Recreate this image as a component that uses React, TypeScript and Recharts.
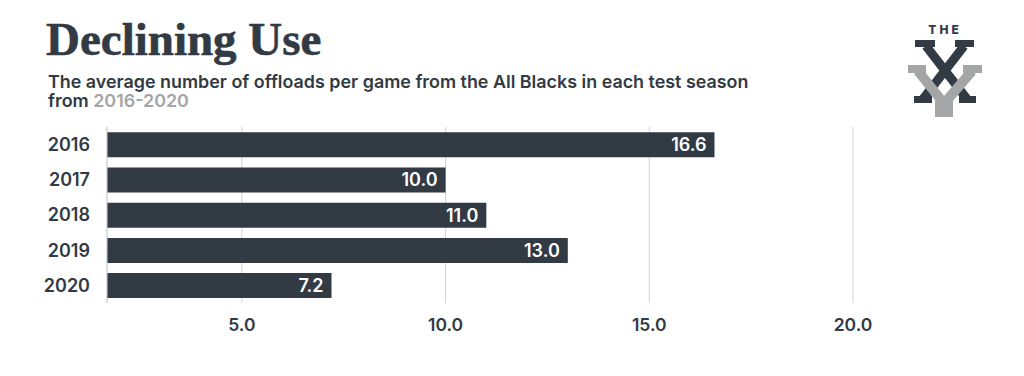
import { BarChart, Bar, XAxis, YAxis, CartesianGrid, LabelList } from 'recharts';

const SEASONS = ['2016', '2017', '2018', '2019', '2020'];
const OFFLOADS = [16.6, 10.0, 11.0, 13.0, 7.2];
const X_TICKS = [5, 10, 15, 20];

const DARK = '#323a44';
const GREY = '#a4a5a7';
const GRID = '#d2d2d2';
const SANS = 'Inter, "Noto Sans", sans-serif';

const data = SEASONS.map((season, i) => ({ season, offloads: OFFLOADS[i] }));

// Logo + headings drawn over the chart
function Header() {
  return (
    <svg
      width={1024}
      height={376}
      style={{ position: 'absolute', left: 0, top: 0, pointerEvents: 'none' }}
    >
      <text
        x={46}
        y={55}
        fontFamily='"Liberation Serif", serif'
        fontWeight={700}
        fontSize={47}
        fill={DARK}
        stroke={DARK}
        strokeWidth={0.6}
      >
        Declining Use
      </text>
      <text fontFamily={SANS} fontWeight={600} fontSize={17.9} fill={DARK}>
        <tspan x={48} y={88}>
          The average number of offloads per game from the All Blacks in each test season
        </tspan>
        <tspan x={48} y={107}>
          from <tspan fill={GREY}>2016-2020</tspan>
        </tspan>
      </text>

      <g>
        <text
          x={945}
          y={34}
          textAnchor="middle"
          fontFamily={SANS}
          fontWeight={800}
          fontSize={12}
          letterSpacing={3}
          fill={DARK}
        >
          THE
        </text>
        <line x1={926} y1={46} x2={967} y2={99} stroke={DARK} strokeWidth={9} />
        <line x1={964} y1={46} x2={923} y2={99} stroke={DARK} strokeWidth={9} />
        <rect x={915} y={40} width={20} height={7} fill={DARK} />
        <rect x={955} y={40} width={19} height={7} fill={DARK} />
        <rect x={914} y={96} width={18} height={7} fill={DARK} />
        <rect x={959} y={96} width={17} height={7} fill={DARK} />
        <line x1={918} y1={71} x2={946} y2={106} stroke={GREY} strokeWidth={10} />
        <line x1={972} y1={71} x2={942} y2={106} stroke={GREY} strokeWidth={10} />
        <rect x={908} y={65} width={18} height={8} fill={GREY} />
        <rect x={963} y={65} width={19} height={8} fill={GREY} />
        <rect x={935} y={101} width={18} height={16} fill={GREY} />
      </g>
    </svg>
  );
}

export default function App() {
  return (
    <div
      style={{
        position: 'absolute',
        left: 0,
        top: 0,
        width: 1024,
        height: 376,
        background: '#fff',
      }}
    >
      <BarChart
        width={1024}
        height={376}
        data={data}
        layout="vertical"
        barCategoryGap="15%"
        margin={{ top: 127, right: 171, bottom: 33, left: 47 }}
      >
        <CartesianGrid horizontal={false} stroke={GRID} />
        <XAxis
          type="number"
          domain={[1.69, 20]}
          ticks={X_TICKS}
          tickFormatter={(v: number) => v.toFixed(1)}
          axisLine={false}
          tickLine={false}
          tickMargin={10}
          height={40}
          tick={{ fontSize: 17.5, fontWeight: 600, fill: DARK, fontFamily: SANS }}
        />
        <YAxis
          type="category"
          dataKey="season"
          width={60}
          axisLine={{ stroke: GRID }}
          tickLine={false}
          tickMargin={11}
          tick={{ fontSize: 18, fontWeight: 600, fill: DARK, fontFamily: SANS }}
        />
        <Bar dataKey="offloads" fill={DARK} isAnimationActive={false}>
          <LabelList
            dataKey="offloads"
            position="insideRight"
            offset={8}
            formatter={(v: number) => v.toFixed(1)}
            style={{ fontSize: 18, fontWeight: 600, fill: '#fff', fontFamily: SANS }}
          />
        </Bar>
      </BarChart>
      <Header />
    </div>
  );
}
